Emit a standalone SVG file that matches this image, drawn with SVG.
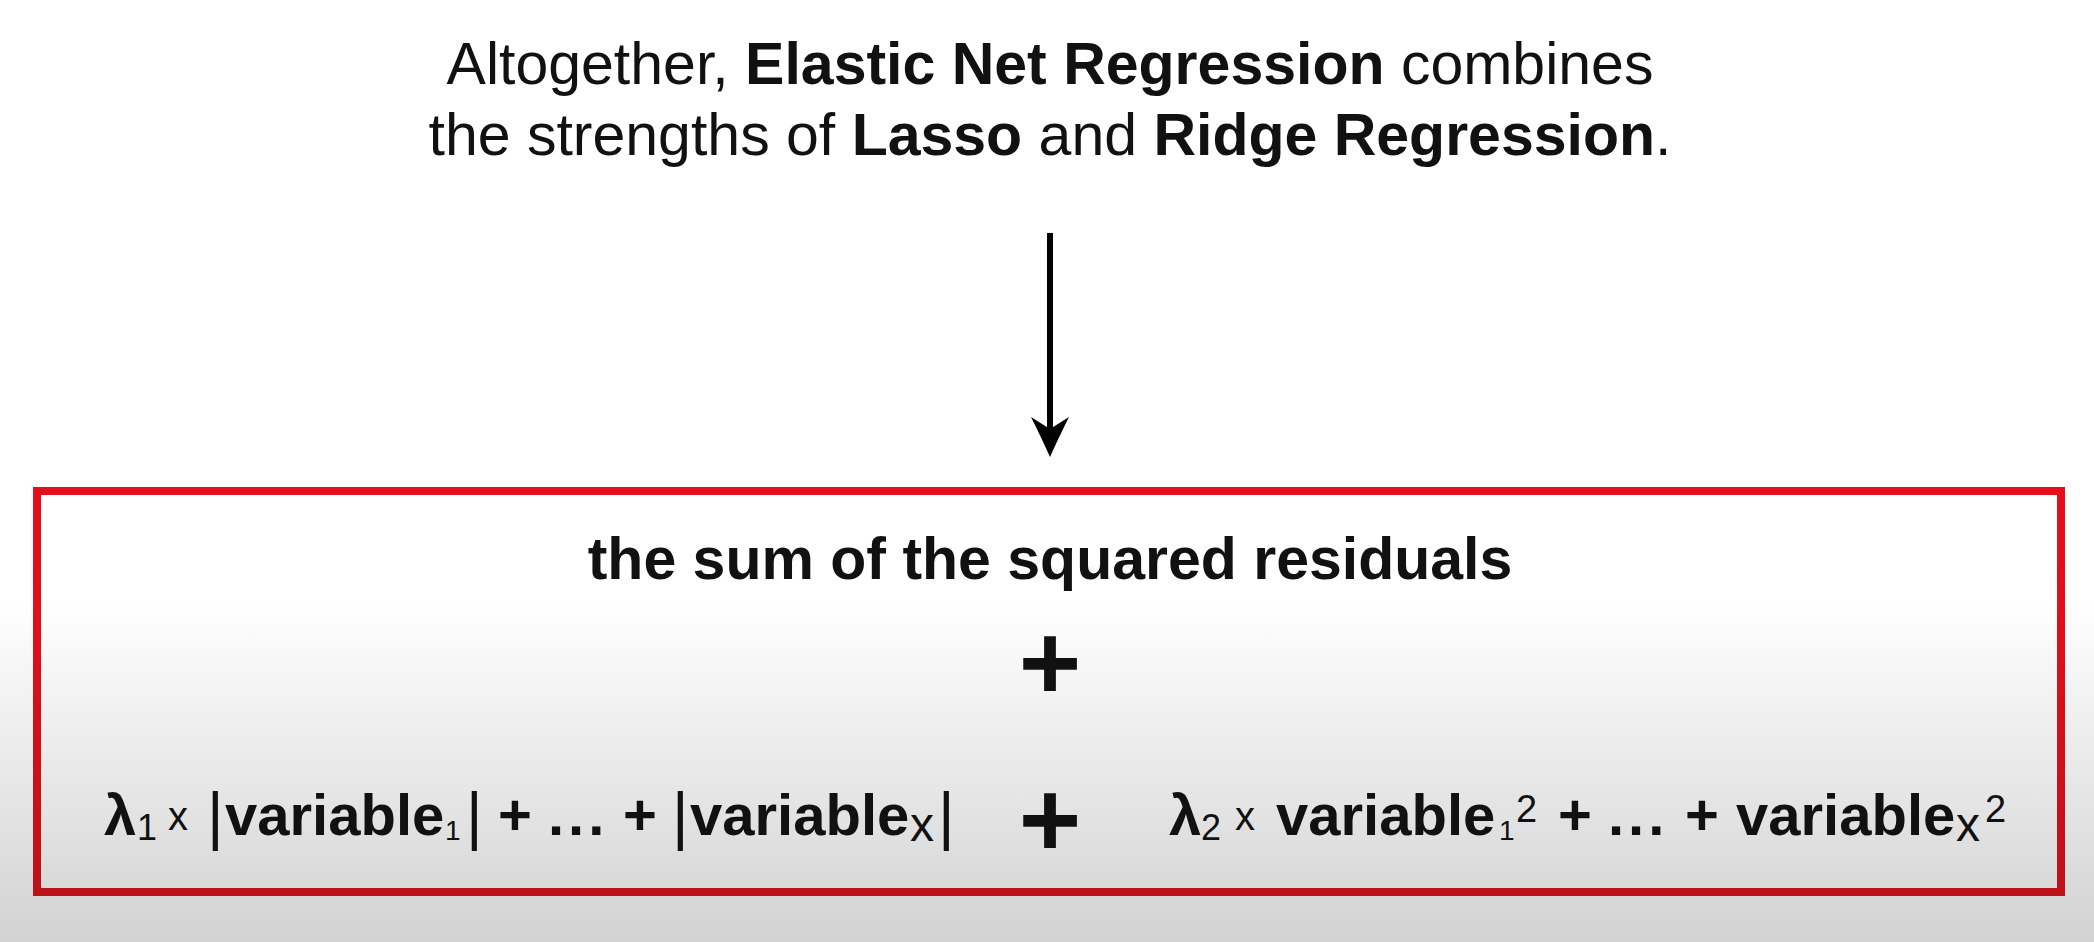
<svg xmlns="http://www.w3.org/2000/svg" width="2094" height="942" viewBox="0 0 2094 942">
  <defs>
    <linearGradient id="bg" gradientUnits="userSpaceOnUse" x1="0" y1="600" x2="0" y2="942">
      <stop offset="0" stop-color="#ffffff"/>
      <stop offset="1" stop-color="#d2d2d2"/>
    </linearGradient>
    <linearGradient id="redStroke" gradientUnits="userSpaceOnUse" x1="0" y1="489" x2="0" y2="896">
      <stop offset="0" stop-color="#e3101b"/>
      <stop offset="0.3" stop-color="#e0101b"/>
      <stop offset="1" stop-color="#bc121a"/>
    </linearGradient>
    <marker id="arrowHead" viewBox="0 0 40 38" refX="15" refY="19" markerWidth="40" markerHeight="38" markerUnits="userSpaceOnUse" orient="auto">
      <path d="M0,0 Q22,11 40,19 Q22,27 0,38 L12,19 Z" fill="#000"/>
    </marker>
    <style>
      text { font-family: "Liberation Sans", Arial, Helvetica, sans-serif; fill: #111; }
      .title { font-size: 59px; font-weight: normal; }
      .b { font-weight: bold; }
      .main { font-size: 59px; font-weight: bold; }
      .expr { font-size: 58px; font-weight: bold; }
      .reg { font-weight: normal; }
      .bar { font-weight: normal; font-size: 64px; }
      .bigplus { font-size: 107px; font-weight: bold; }
      .conn { stroke: #000; stroke-width: 6; fill: none; }
    </style>
  </defs>

  <rect x="0" y="0" width="2094" height="942" fill="url(#bg)"/>

  <g id="title">
    <text class="title" x="1050" y="84" text-anchor="middle">Altogether, <tspan class="b">Elastic Net Regression</tspan> combines</text>
    <text class="title" x="1050" y="155" text-anchor="middle">the strengths of <tspan class="b">Lasso</tspan> and <tspan class="b">Ridge Regression</tspan>.</text>
  </g>

  <g id="connectors">
    <path class="conn" d="M1050,233 V432" marker-end="url(#arrowHead)"/>
  </g>

  <g id="formula-box">
    <rect x="37" y="491" width="2024" height="401" fill="none" stroke="url(#redStroke)" stroke-width="8"/>
    <text class="main" x="1050" y="579" text-anchor="middle">the sum of the squared residuals</text>
    <text class="bigplus" x="1050" y="699" text-anchor="middle">+</text>

    <text class="expr" y="835">
      <tspan x="104">λ</tspan><tspan class="reg" x="137" y="840" font-size="36">1</tspan><tspan class="reg" x="168" y="830" font-size="40">x</tspan><tspan class="bar" x="207" y="838">|</tspan><tspan x="225" y="835">variable</tspan><tspan class="reg" x="445" y="840" font-size="28">1</tspan><tspan class="bar" x="466" y="838">|</tspan><tspan x="498" y="835">+</tspan><tspan x="548" letter-spacing="4">...</tspan><tspan x="623">+</tspan><tspan class="bar" x="672" y="838">|</tspan><tspan x="690" y="835">variable</tspan><tspan class="reg" x="910" y="841" font-size="48">x</tspan><tspan class="bar" x="938" y="838">|</tspan>
    </text>

    <text class="bigplus" x="1050" y="856" text-anchor="middle">+</text>

    <text class="expr" y="835">
      <tspan x="1169">λ</tspan><tspan class="reg" x="1201" y="840" font-size="36">2</tspan><tspan class="reg" x="1235" y="830" font-size="40">x</tspan><tspan x="1276" y="835">variable</tspan><tspan class="reg" x="1499" y="840" font-size="28">1</tspan><tspan class="reg" x="1516" y="822" font-size="38">2</tspan><tspan x="1558" y="835">+</tspan><tspan x="1608" letter-spacing="4">...</tspan><tspan x="1685">+</tspan><tspan x="1736">variable</tspan><tspan class="reg" x="1956" y="841" font-size="48">x</tspan><tspan class="reg" x="1985" y="822" font-size="38">2</tspan>
    </text>
  </g>
</svg>
